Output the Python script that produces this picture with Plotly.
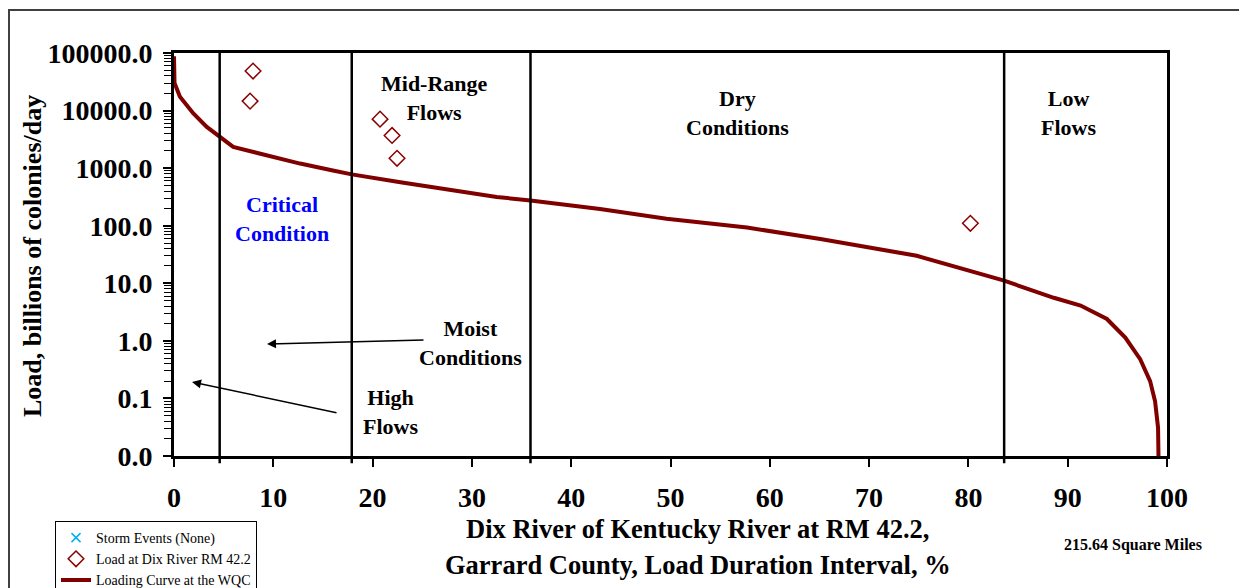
"""Load duration curve - Dix River RM 42.2"""
import plotly.graph_objects as go

# loading curve (duration interval %, load billions of colonies/day)
curve_x = [0.0, 0.05, 0.6, 1.95, 3.3, 4.6, 5.96, 8.7, 12.7, 16.0, 17.9, 22.8, 32.5,
           35.9, 42.9, 49.6, 57.7, 65.1, 74.8, 83.6, 88.6, 91.3, 93.95, 95.8, 97.3,
           98.3, 98.8, 99.1, 99.15]
curve_y = [88000, 30000, 17400, 8900, 5200, 3560, 2340, 1780, 1200, 910, 780, 570, 315,
           275, 195, 132, 93, 59, 30, 11.1, 5.6, 4.1, 2.4, 1.14, 0.48,
           0.20, 0.089, 0.031, 0.008]

# observed loads at Dix River RM 42.2
obs_x = [7.96, 7.66, 20.75, 21.96, 22.46, 80.2]
obs_y = [48500, 14600, 7100, 3700, 1480, 110]

# flow zone boundaries (%)
zone_bounds = [4.6, 17.9, 35.9, 83.6]

x_ticks = list(range(0, 101, 10))
y_ticks = [0.01, 0.1, 1, 10, 100, 1000, 10000, 100000]
y_ticktext = ["0.0", "0.1", "1.0", "10.0", "100.0", "1000.0", "10000.0", "100000.0"]

FONT = "Times New Roman, Liberation Serif, DejaVu Serif, serif"
W, H = 1239, 588
L, R, T, B = 174, 1167, 53, 456


def px(x):
    return (x - L) / (R - L)


def py(y):
    return (B - y) / (B - T)


def note(text, x, y, size, color="black", **kw):
    fig.add_annotation(text=text, x=px(x), y=py(y), xref="paper", yref="paper",
                       showarrow=False, xanchor="center", yanchor="middle",
                       font=dict(family=FONT, size=size, color=color), **kw)


fig = go.Figure()

fig.add_trace(go.Scatter(
    x=[None], y=[None], mode="markers", name="Storm Events (None)",
    marker=dict(symbol="x-thin", size=9, line=dict(color="#00b0f0", width=1.5))
))
fig.add_trace(go.Scatter(
    x=obs_x, y=obs_y, mode="markers", name="Load at Dix River RM 42.2",
    marker=dict(symbol="diamond-open", size=12, color="#8b0000", line=dict(width=1.5))
))
fig.add_trace(go.Scatter(
    x=curve_x, y=curve_y, mode="lines", name="Loading Curve at the WQC",
    line=dict(color="#800000", width=4)
))

# zone boundaries
for xb in zone_bounds:
    fig.add_shape(type="line", xref="x", yref="paper", x0=xb, x1=xb, y0=-0.018, y1=1,
                  line=dict(color="black", width=2.5))

# outer frame
fig.add_shape(type="rect", xref="paper", yref="paper",
              x0=px(9), x1=px(1250), y0=py(10), y1=py(600),
              line=dict(color="#404040", width=2))

# zone labels
note("<b>Critical</b><br><b>Condition</b>", 282, 219, 22, "#0000ff")
note("<b>Mid-Range</b><br><b>Flows</b>", 434, 98, 22)
note("<b>Dry</b><br><b>Conditions</b>", 737, 113, 22)
note("<b>Low</b><br><b>Flows</b>", 1068, 113, 22)
note("<b>Moist</b><br><b>Conditions</b>", 470, 343, 22)
note("<b>High</b><br><b>Flows</b>", 390, 412, 22)

# arrows
for hx, hy, tx, ty in [(267, 344, 425, 340), (192, 382, 338, 413)]:
    fig.add_annotation(text="", x=px(hx), y=py(hy), xref="paper", yref="paper",
                       ax=tx - hx, ay=ty - hy, axref="pixel", ayref="pixel",
                       showarrow=True, arrowhead=2, arrowsize=1.2, arrowwidth=1.5,
                       arrowcolor="black")

# axis titles
note("<b>Dix River of Kentucky River at RM 42.2,</b>", 697, 529, 26.5)
note("<b>Garrard County, Load Duration Interval, %</b>", 698, 565, 26.5)
note("<b>Load, billions of colonies/day</b>", 32, 256, 26, textangle=-90)
note("<b>215.64 Square Miles</b>", 1133, 545, 16)

minor_vals = [m * 10 ** e for e in range(-2, 5) for m in range(2, 10)]

fig.update_xaxes(
    range=[0, 100], tickvals=x_ticks, ticks="outside", ticklen=8, tickwidth=1.5,
    tickcolor="black", showline=True, mirror=True, linecolor="black", linewidth=3,
    showgrid=False, zeroline=False, ticklabelstandoff=6, automargin=False,
    tickfont=dict(family=FONT, size=28, color="black", weight="bold")
)
fig.update_yaxes(
    type="log", range=[-2, 5], tickvals=y_ticks, ticktext=y_ticktext,
    ticks="outside", ticklen=8, tickwidth=1.5, tickcolor="black",
    minor=dict(tickvals=minor_vals, ticks="outside", ticklen=7, tickwidth=1,
               tickcolor="black", showgrid=False),
    showline=True, mirror=True, linecolor="black", linewidth=3,
    showgrid=False, zeroline=False, ticklabelstandoff=5, automargin=False,
    tickfont=dict(family=FONT, size=28, color="black", weight="bold")
)

fig.update_layout(
    width=W, height=H,
    margin=dict(l=L, r=W - R, t=T, b=H - B, autoexpand=False),
    plot_bgcolor="white", paper_bgcolor="white",
    showlegend=True,
    legend=dict(x=px(55), y=py(521), xanchor="left", yanchor="top",
                bordercolor="black", borderwidth=1, bgcolor="white",
                font=dict(family=FONT, size=14, color="black"),
                tracegroupgap=0, itemwidth=30),
)

fig.write_html("out.html", config={"displayModeBar": False},
               post_script="document.body.style.margin = '0px';")
